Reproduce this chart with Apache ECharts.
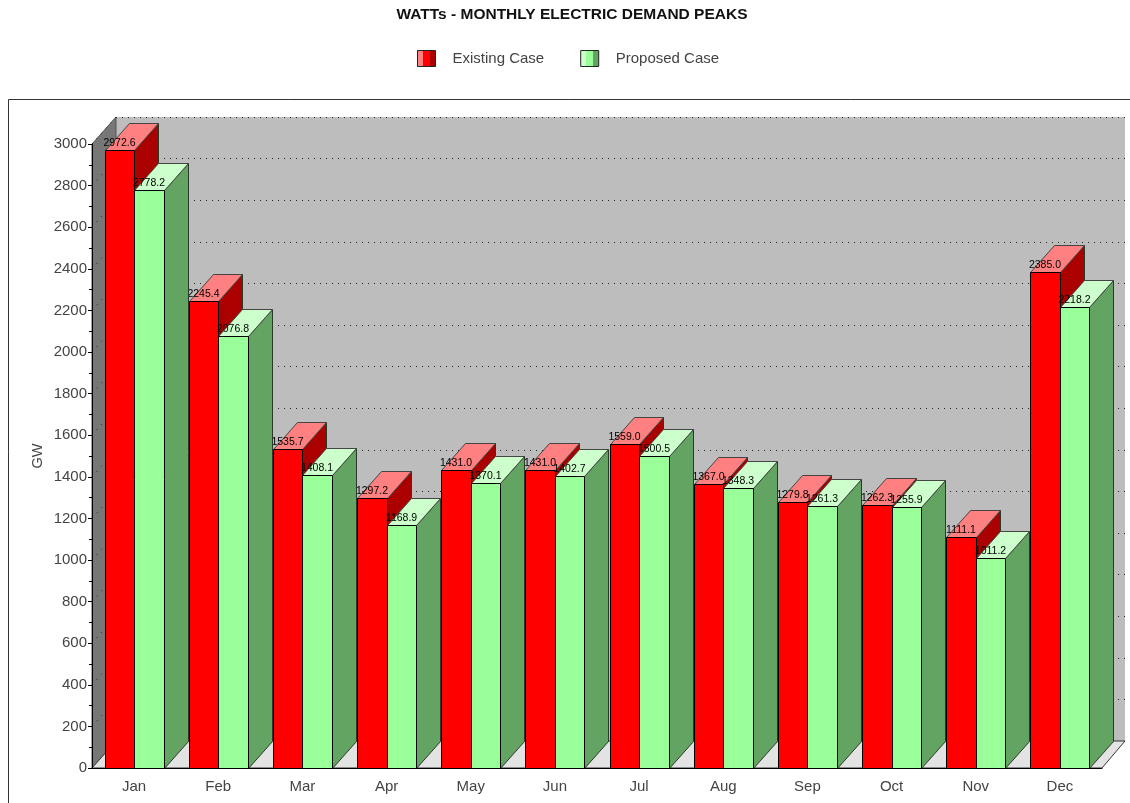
<!DOCTYPE html>
<html>
<head>
<meta charset="utf-8">
<title>WATTs - Monthly Electric Demand Peaks</title>
<script src="https://cdn.jsdelivr.net/npm/echarts@6/dist/echarts.min.js"></script>
<style>
    html, body { margin: 0; padding: 0; background: #fff; }
    #main { width: 1130px; height: 803px; }
</style>
</head>
<body>
<div id="main"></div>
<script>
var months = ['Jan', 'Feb', 'Mar', 'Apr', 'May', 'Jun', 'Jul', 'Aug', 'Sep', 'Oct', 'Nov', 'Dec'];
var existing_case = [2972.6, 2245.4, 1535.7, 1297.2, 1431.0, 1431.0, 1559.0, 1367.0, 1279.8, 1262.3, 1111.1, 2385.0];
var proposed_case = [2778.2, 2076.8, 1408.1, 1168.9, 1370.1, 1402.7, 1500.5, 1348.3, 1261.3, 1255.9, 1011.2, 2218.2];
var y_ticks = [200, 400, 600, 800, 1000, 1200, 1400, 1600, 1800, 2000, 2200, 2400, 2600, 2800, 3000];

// how far the back wall sits from the front plane
var depth_x = 24;
var depth_y = 27;
var font = '"Liberation Sans", Arial, sans-serif';

function to_pairs(values) {
    return values.map(function (v, i) {
        return [i, v];
    });
}

function poly(points, fill, stroke) {
    return {
        type: 'polygon',
        shape: { points: points },
        style: { fill: fill, stroke: stroke, lineWidth: 1 }
    };
}

// one 3d bar: side, top and front faces plus the value label
function bar_renderer(side, colors) {
    return function (params, api) {
        var top = api.coord([api.value(0), api.value(1)]);
        var base = api.coord([api.value(0), 0]);
        var w = api.size([1, 0])[0] * 0.35;
        var x0 = Math.round(side < 0 ? top[0] - w : top[0]) + 0.5;
        var x1 = Math.round(side < 0 ? top[0] : top[0] + w) + 0.5;
        var y0 = Math.round(top[1]) + 0.5;
        var y1 = Math.round(base[1]) + 0.5;
        return {
            type: 'group',
            children: [
                poly([[x1, y0], [x1 + depth_x, y0 - depth_y], [x1 + depth_x, y1 - depth_y], [x1, y1]], colors.side, '#2a3a2a'),
                poly([[x0, y0], [x0 + depth_x, y0 - depth_y], [x1 + depth_x, y0 - depth_y], [x1, y0]], colors.top, '#444'),
                poly([[x0, y0], [x1, y0], [x1, y1], [x0, y1]], colors.front, '#000'),
                {
                    type: 'text',
                    style: {
                        x: (x0 + x1) / 2 - 0.5,
                        y: y0 - 7,
                        text: api.value(1).toFixed(1),
                        fill: '#000',
                        font: '10.5px ' + font,
                        textAlign: 'center',
                        textVerticalAlign: 'middle'
                    }
                }
            ]
        };
    };
}

// floor and left wall, hung off the main grid's rectangle
function render_room(params, api) {
    var c = params.coordSys;
    var l = c.x, r = c.x + c.width, t = c.y, b = c.y + c.height;
    var children = [
        poly([[l, b], [l + depth_x, b - depth_y], [l + depth_x, t - depth_y], [l, t]], '#777777', '#555'),
        poly([[l, b], [l + depth_x, b - depth_y], [r + depth_x - 1, b - depth_y], [r, b]], '#e3e3e3', '#333')
    ];
    y_ticks.forEach(function (v) {
        var y = api.coord([0, v])[1];
        children.push({
            type: 'line',
            shape: { x1: l, y1: y, x2: l + depth_x, y2: y - depth_y },
            style: { stroke: '#222', lineWidth: 1, lineDash: [1, 6] }
        });
    });
    return { type: 'group', children: children };
}

var chart = echarts.init(document.getElementById('main'));

var option = {
    animation: false,
    backgroundColor: '#fff',
    textStyle: { fontFamily: font },
    title: {
        text: 'WATTs - MONTHLY ELECTRIC DEMAND PEAKS',
        left: 572,
        textAlign: 'center',
        top: 7,
        padding: 0,
        textStyle: { fontSize: 15.5, fontWeight: 'bold', color: '#111', fontFamily: font }
    },
    legend: {
        left: 417,
        top: 50,
        padding: 0,
        itemWidth: 18,
        itemHeight: 16,
        itemGap: 36,
        icon: 'rect',
        textStyle: { fontSize: 15, color: '#444', fontFamily: font, padding: [3, 0, 0, 12] },
        data: [
            {
                name: 'Existing Case',
                itemStyle: {
                    color: new echarts.graphic.LinearGradient(0, 0, 1, 0, [
                        { offset: 0, color: '#ff8080' }, { offset: 0.33, color: '#ff8080' },
                        { offset: 0.33, color: '#ff0000' }, { offset: 0.67, color: '#ff0000' },
                        { offset: 0.67, color: '#aa0000' }, { offset: 1, color: '#aa0000' }
                    ]),
                    borderColor: '#222',
                    borderWidth: 1
                }
            },
            {
                name: 'Proposed Case',
                itemStyle: {
                    color: new echarts.graphic.LinearGradient(0, 0, 1, 0, [
                        { offset: 0, color: '#ccffcc' }, { offset: 0.33, color: '#ccffcc' },
                        { offset: 0.33, color: '#99ff99' }, { offset: 0.67, color: '#99ff99' },
                        { offset: 0.67, color: '#63a463' }, { offset: 1, color: '#63a463' }
                    ]),
                    borderColor: '#222',
                    borderWidth: 1
                }
            }
        ]
    },
    graphic: [
        {
            type: 'polyline',
            shape: { points: [[8.5, 810], [8.5, 99.5], [1140, 99.5]] },
            style: { stroke: '#333', fill: 'none', lineWidth: 1 }
        }
    ],
    grid: [
        { left: 92, right: 28, top: 144, bottom: 35 },
        // the back wall is its own grid, shifted back by the depth
        {
            left: 92 + depth_x, right: 5, top: 144 - depth_y, bottom: 35 + depth_y,
            show: true, backgroundColor: '#bdbdbd', borderWidth: 0
        }
    ],
    xAxis: [
        {
            type: 'category',
            gridIndex: 0,
            data: months,
            z: 10,
            axisLine: { lineStyle: { color: '#000' } },
            axisTick: { alignWithLabel: true, length: 3, lineStyle: { color: '#000' } },
            axisLabel: { fontSize: 15, color: '#444', margin: 11, interval: 0 }
        },
        {
            type: 'category',
            gridIndex: 1,
            data: months,
            axisLine: { show: false },
            axisTick: { show: false },
            axisLabel: { show: false }
        }
    ],
    yAxis: [
        {
            type: 'value',
            gridIndex: 0,
            min: 0,
            max: 3000,
            interval: 200,
            name: 'GW',
            nameLocation: 'middle',
            nameGap: 47,
            nameMoveOverlap: false,
            nameTextStyle: { fontSize: 14.5, color: '#444' },
            z: 10,
            axisLine: { show: true, lineStyle: { color: '#000' } },
            axisTick: { show: true, length: 4, lineStyle: { color: '#000' } },
            minorTick: { show: true, splitNumber: 2, length: 3, lineStyle: { color: '#000' } },
            axisLabel: { fontSize: 15, color: '#444', margin: 5, formatter: function (v) { return String(v); } },
            splitLine: { show: false }
        },
        {
            type: 'value',
            gridIndex: 1,
            min: 0,
            max: 3000,
            interval: 200,
            axisLine: { show: false },
            axisTick: { show: false },
            axisLabel: { show: false },
            splitLine: { show: true, lineStyle: { color: '#222', type: [1, 5], width: 1 } }
        }
    ],
    series: [
        {
            type: 'custom',
            name: 'room',
            xAxisIndex: 0,
            yAxisIndex: 0,
            z: 1,
            silent: true,
            data: [[0, 0]],
            encode: { x: 0, y: 1 },
            renderItem: render_room
        },
        {
            type: 'custom',
            name: 'Existing Case',
            xAxisIndex: 0,
            yAxisIndex: 0,
            z: 2,
            data: to_pairs(existing_case),
            encode: { x: 0, y: 1 },
            renderItem: bar_renderer(-1, { front: '#ff0000', top: '#ff8080', side: '#aa0000' })
        },
        {
            type: 'custom',
            name: 'Proposed Case',
            xAxisIndex: 0,
            yAxisIndex: 0,
            z: 3,
            data: to_pairs(proposed_case),
            encode: { x: 0, y: 1 },
            renderItem: bar_renderer(1, { front: '#99ff99', top: '#ccffcc', side: '#63a463' })
        }
    ]
};

chart.setOption(option);
</script>
</body>
</html>
